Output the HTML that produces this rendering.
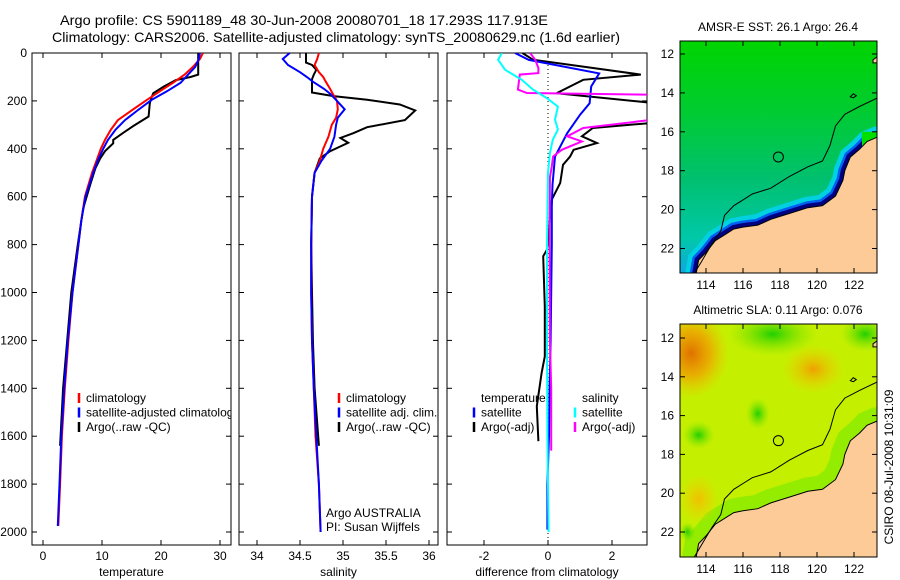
<!DOCTYPE html>
<html><head><meta charset="utf-8"><style>
html,body{margin:0;padding:0;background:#fff;}
svg{display:block;font-family:"Liberation Sans",sans-serif;}
text{font-size:12px;fill:#000;}
</style></head><body>
<svg id="fig" width="900" height="580" viewBox="0 0 900 580">
<defs>
<clipPath id="c1"><rect x="32" y="53" width="199" height="492"/></clipPath>
<clipPath id="c2"><rect x="239" y="53" width="199" height="492"/></clipPath>
<clipPath id="c3"><rect x="447" y="53" width="200" height="492"/></clipPath>
<clipPath id="cm1"><rect x="680" y="41" width="197" height="232"/></clipPath>
<clipPath id="cm2"><rect x="680" y="324" width="197" height="233"/></clipPath>
<linearGradient id="g1" x1="0" y1="0" x2="0" y2="1">
<stop offset="0" stop-color="#00d400"/><stop offset="0.3" stop-color="#00cc30"/>
<stop offset="0.6" stop-color="#00c070"/><stop offset="0.85" stop-color="#00c8a8"/><stop offset="1" stop-color="#10a8e0"/></linearGradient>
<radialGradient id="o1"><stop offset="0" stop-color="#e07000"/><stop offset="0.5" stop-color="#f0a000" stop-opacity="0.8"/><stop offset="1" stop-color="#f0c000" stop-opacity="0"/></radialGradient>
<radialGradient id="o2"><stop offset="0" stop-color="#f0a000"/><stop offset="1" stop-color="#f0d000" stop-opacity="0"/></radialGradient>
<radialGradient id="gr"><stop offset="0" stop-color="#20d000"/><stop offset="1" stop-color="#80e000" stop-opacity="0"/></radialGradient>
<radialGradient id="yo"><stop offset="0" stop-color="#f0c000"/><stop offset="1" stop-color="#f0d000" stop-opacity="0"/></radialGradient>
</defs>
<text x="304" y="25" text-anchor="middle" textLength="488" lengthAdjust="spacingAndGlyphs" style="font-size:14px">Argo profile: CS 5901189_48 30-Jun-2008 20080701_18 17.293S 117.913E</text>
<text x="336" y="42" text-anchor="middle" textLength="568" lengthAdjust="spacingAndGlyphs" style="font-size:14px">Climatology: CARS2006. Satellite-adjusted climatology: synTS_20080629.nc (1.6d earlier)</text>
<g id="panels"></g>
<g id="maps"></g>
<text transform="translate(893,467) rotate(-90)" text-anchor="middle">CSIRO 08-Jul-2008 10:31:09</text>
</svg>
<script>
// ---- data ----
const tClimDepth=[0,25,58,90,125,160,196,240,280,320,363,400,447,500,600,700,800,1000,1200,1400,1600,1800,1975];
const tClim=[27.1,26.6,25.4,24.0,22.0,19.8,17.6,15.0,12.7,11.5,10.5,9.8,9.1,8.3,7.1,6.5,6.0,5.0,4.3,3.7,3.2,2.9,2.6];
const tSat=[26.6,26.4,25.8,24.6,23.3,21.0,18.4,16.0,13.9,12.3,11.0,10.2,9.3,8.5,7.2,6.5,6.0,5.0,4.2,3.6,3.1,2.8,2.5];
const tArgoDepth=[0,90,100,113,140,168,185,210,265,305,335,363,377,410,440,480,550,650,800,1000,1200,1400,1640];
const tArgo=[26.3,26.3,25.0,22.5,20.5,18.7,18.4,18.1,17.9,15.3,13.5,11.9,11.9,10.5,9.7,8.9,8.0,6.8,5.9,4.8,4.1,3.4,2.9];
const sDepth=[0,25,50,80,100,120,150,170,200,235,270,300,350,400,450,500,600,800,1000,1200,1400,1600,1800,2000];
const sClim=[34.72,34.70,34.67,34.72,34.77,34.80,34.85,34.88,34.93,34.94,34.92,34.87,34.83,34.77,34.73,34.67,34.64,34.63,34.63,34.64,34.66,34.68,34.72,34.74];
const sSat=[34.38,34.30,34.36,34.50,34.58,34.65,34.78,34.85,34.93,35.02,34.94,34.92,34.90,34.85,34.75,34.67,34.64,34.63,34.63,34.64,34.66,34.69,34.72,34.74];
const sArgoDepth=[0,40,50,70,90,110,165,180,195,215,240,280,310,335,355,375,410,440,500,600,800,1000,1200,1400,1640];
const sArgo=[34.57,34.57,34.64,34.69,34.66,34.64,34.64,34.89,35.28,35.66,35.84,35.72,35.28,35.12,34.97,35.06,34.85,34.73,34.67,34.64,34.63,34.64,34.65,34.67,34.72];
const dTsatDepth=[0,29,85,140,210,258,335,433,550,643,800,1000,1200,1400,1600,1800,1990];
const dTsat=[-1.03,-0.6,1.6,1.35,1.3,1.0,0.6,0.22,0.14,0.12,0.12,0.1,0.08,0.05,0.03,-0.02,-0.02];
const dTargoDepth=[0,28,90,112,168,210,290,313,348,376,404,432,467,543,612,821,849,1058,1267,1336,1475,1621];
const dTargo=[-0.8,-0.47,2.9,1.1,0.27,3.4,3.4,1.4,1.06,1.53,0.8,0.69,0.47,0.38,0.12,-0.03,-0.15,-0.1,-0.1,-0.2,-0.35,-0.3];
const dSsatDepth=[0,28,70,112,153,188,224,278,320,362,418,501,800,1200,1600,2000];
const dSsat=[-1.44,-1.56,-1.34,-0.82,-0.47,-0.04,0.31,0.22,0.31,0.15,0.06,0.0,-0.03,-0.03,-0.02,0.02];
const dSargoDepth=[0,28,63,84,90,153,167,174,278,313,348,369,404,432,473,520,800,1200,1400,1600,1660];
const dSargo=[-0.56,-0.4,-0.3,-0.3,-0.88,-0.94,-0.66,3.3,3.3,1.1,0.6,1.06,0.43,0.16,0.12,0.06,0.05,0.06,0.1,0.1,0.1];
const depthTicks=[0,200,400,600,800,1000,1200,1400,1600,1800,2000];
const tTicks=[0,10,20,30];
const sTicks=[34,34.5,35,35.5,36];
const dTicks=[-2,0,2];
const latTicks=[12,14,16,18,20,22];
const lonTicks=[114,116,118,120,122];
const coastLon=[113.45,113.6,114,114.5,115,115.5,116,116.8,117.5,118.5,119.5,120.3,121,121.4,121.5,121.8,122.3,122.7,123.2,123.4];
const coastLat=[23.4,22.6,22.2,21.6,21.3,21.0,20.9,20.8,20.5,20.2,19.9,19.8,19.3,18.5,18.0,17.3,16.9,16.5,16.3,16.3];
const shelfLon=[113.3,113.8,114.3,114.8,115.0,115.5,116,116.5,117.5,118.5,119.5,120.3,120.7,121.0,121.5,122.3,123.4];
const shelfLat=[23.4,22.6,21.8,21.1,20.3,19.8,19.5,19.2,18.9,18.3,17.8,17.5,16.7,15.7,15.1,14.7,14.2];
const argoLon=117.913, argoLat=17.293;

const NS='http://www.w3.org/2000/svg';
function mk(tag,attrs,parent){const e=document.createElementNS(NS,tag);for(const k in attrs)e.setAttribute(k,attrs[k]);parent.appendChild(e);return e;}
const yD=d=>53+d*0.2395;
const xT=v=>43+v*5.9;
const xS=v=>257+(v-34)*86;
const xDf=v=>548+v*32;
const P=document.getElementById('panels');

function panel(name,x0,w,xf,ticks,label,clip,labelY){
  const g=mk('g',{},P);
  
  
  const r=mk('rect',{x:x0,y:53,width:w,height:492,fill:'none',stroke:'#000','stroke-width':1},g);
  
  
  depthTicks.forEach(d=>{
    mk('line',{x1:x0,x2:x0+5,y1:yD(d),y2:yD(d),stroke:'#000'},g);
    mk('line',{x1:x0+w-5,x2:x0+w,y1:yD(d),y2:yD(d),stroke:'#000'},g);
    if(labelY){const t=mk('text',{x:x0-5,y:yD(d)+4,'text-anchor':'end'},g);t.textContent=d;
      
      }
  });
  ticks.forEach(v=>{
    const x=xf(v);
    mk('line',{x1:x,x2:x,y1:545,y2:540,stroke:'#000'},g);
    mk('line',{x1:x,x2:x,y1:53,y2:58,stroke:'#000'},g);
    const t=mk('text',{x:x,y:560,'text-anchor':'middle'},g);t.textContent=v;
    
    
  });
  const l=mk('text',{x:x0+w/2,y:576,'text-anchor':'middle'},g);l.textContent=label;
  
  
  const lines=mk('g',{'clip-path':'url(#'+clip+')'},g);
  return lines;
}
function series(g,xf,depths,vals,color,w,name){
  const pts=depths.map((d,i)=>xf(vals[i]).toFixed(1)+','+yD(d).toFixed(1)).join(' ');
  const p=mk('polyline',{points:pts,fill:'none',stroke:color,'stroke-width':w,'stroke-linejoin':'miter'},g);
  
  
}
const g1=panel('temperature-panel',32,199,xT,tTicks,'temperature','c1',true);
series(g1,xT,tArgoDepth,tArgo,'#000',2,'temp-argo-line');
series(g1,xT,tClimDepth,tClim,'#f00',2,'temp-climatology-line');
series(g1,xT,tClimDepth,tSat,'#00f',2,'temp-satellite-line');
const g2=panel('salinity-panel',239,199,xS,sTicks,'salinity','c2',false);
series(g2,xS,sArgoDepth,sArgo,'#000',2,'sal-argo-line');
series(g2,xS,sDepth,sClim,'#f00',2,'sal-climatology-line');
series(g2,xS,sDepth,sSat,'#00f',2,'sal-satellite-line');
const g3=panel('difference-panel',447,200,xDf,dTicks,'difference from climatology','c3',false);
mk('line',{x1:xDf(0),x2:xDf(0),y1:53,y2:545,stroke:'#000','stroke-dasharray':'1,3'},g3);
series(g3,xDf,dTargoDepth,dTargo,'#000',2,'diff-temp-argo-line');
series(g3,xDf,dTsatDepth,dTsat,'#00f',2,'diff-temp-satellite-line');
series(g3,xDf,dSargoDepth,dSargo,'#f0f',2,'diff-sal-argo-line');
series(g3,xDf,dSsatDepth,dSsat,'#0ff',2,'diff-sal-satellite-line');

function legend(x,y,items){
  items.forEach((it,i)=>{
    const yy=y+i*14.5;
    if(it[1]){mk('line',{x1:x,x2:x,y1:yy-9,y2:yy+1,stroke:it[1],'stroke-width':2.5},P);}
    const t=mk('text',{x:x+7,y:yy},P);t.textContent=it[0];
    
    
  });
}
legend(79,402,[['climatology','#f00'],['satellite-adjusted climatology','#00f'],['Argo(..raw -QC)','#000']]);
mk('rect',{x:231.5,y:400,width:7,height:20,fill:'#fff'},P);
mk('line',{x1:231,x2:231,y1:53,y2:545,stroke:'#000'},P);
mk('line',{x1:239,x2:239,y1:53,y2:545,stroke:'#000'},P);
legend(339,402,[['climatology','#f00'],['satellite adj. clim.','#00f'],['Argo(..raw -QC)','#000']]);
legend(474,402,[['temperature',null],['satellite','#00f'],['Argo(-adj)','#000']]);
legend(575,402,[['salinity',null],['satellite','#0ff'],['Argo(-adj)','#f0f']]);
[['Argo AUSTRALIA',517],['PI: Susan Wijffels',531]].forEach(a=>{
  const t=mk('text',{x:326,y:a[1]},P);t.textContent=a[0];
  
  
});

// ---- maps ----
const M=document.getElementById('maps');
function map(name,y0,h,lat12,pxlat,title,clip,fillFn){
  const g=mk('g',{},M);
  
  
  const X=lon=>706+(lon-114)*18.5;
  const Y=lat=>lat12+(lat-12)*pxlat;
  const inner=mk('g',{'clip-path':'url(#'+clip+')'},g);
  fillFn(inner,X,Y);
  const coast=coastLon.map((l,i)=>X(l).toFixed(1)+','+Y(coastLat[i]).toFixed(1)).join(' ');
  const land=mk('polygon',{points:coast+' 880,'+(y0+h+5)+' '+X(113.45)+','+(y0+h+5),fill:'#fccb98',stroke:'#000','stroke-width':1},inner);
  
  
  const shelf=shelfLon.map((l,i)=>X(l).toFixed(1)+','+Y(shelfLat[i]).toFixed(1)).join(' ');
  const sl=mk('polyline',{points:shelf,fill:'none',stroke:'#000','stroke-width':1},inner);
  
  
  mk('path',{d:`M${X(121.8)},${Y(14.2)} l3,-3 l3,2 l-3,2 z`,fill:'none',stroke:'#000'},inner);
  mk('path',{d:`M873,${Y(12.3)} l4,-3 l2,6 l-6,0 z`,fill:'#fccb98',stroke:'#000'},inner);
  const c=mk('circle',{cx:X(argoLon),cy:Y(argoLat),r:5,fill:'none',stroke:'#000','stroke-width':1},g);
  
  
  mk('rect',{x:680,y:y0,width:197,height:h,fill:'none',stroke:'#000'},g);
  latTicks.forEach(l=>{const y=Y(l);
    mk('line',{x1:680,x2:685,y1:y,y2:y,stroke:'#000'},g);
    mk('line',{x1:872,x2:877,y1:y,y2:y,stroke:'#000'},g);
    const t=mk('text',{x:674,y:y+4,'text-anchor':'end'},g);t.textContent=l;
    
    });
  lonTicks.forEach(l=>{const x=X(l);
    mk('line',{x1:x,x2:x,y1:y0,y2:y0+5,stroke:'#000'},g);
    mk('line',{x1:x,x2:x,y1:y0+h,y2:y0+h-5,stroke:'#000'},g);
    const t=mk('text',{x:x,y:y0+h+16,'text-anchor':'middle'},g);t.textContent=l;
    
    });
  const tt=mk('text',{x:778,y:y0-10,'text-anchor':'middle'},g);tt.textContent=title;
  
  
}
map('sst-map',41,232,54,19.45,'AMSR-E SST: 26.1 Argo: 26.4','cm1',(g,X,Y)=>{
  mk('rect',{x:680,y:41,width:197,height:232,fill:'url(#g1)'},g);
  const coast=coastLon.map((l,i)=>X(l).toFixed(1)+','+Y(coastLat[i]).toFixed(1)).join(' ');
  mk('polyline',{points:coast,fill:'none',stroke:'#00d0e0','stroke-width':22},g);
  mk('polyline',{points:coast,fill:'none',stroke:'#0060f0','stroke-width':13},g);
  mk('polyline',{points:coast,fill:'none',stroke:'#000080','stroke-width':8},g);
  mk('rect',{x:862,y:Y(16),width:15,height:20,fill:'#00e000'},g);
});
map('sla-map',324,233,338,19.4,'Altimetric SLA: 0.11 Argo: 0.076','cm2',(g,X,Y)=>{
  mk('rect',{x:680,y:324,width:197,height:233,fill:'#c4f000'},g);
  const coast=coastLon.map((l,i)=>X(l).toFixed(1)+','+Y(coastLat[i]).toFixed(1)).join(' ');
  mk('polyline',{points:coast,fill:'none',stroke:'#94ec00','stroke-width':28},g);
  mk('ellipse',{cx:X(113.2),cy:Y(12.8),rx:38,ry:45,fill:'url(#o1)'},g);
  mk('ellipse',{cx:X(119.8),cy:Y(13.6),rx:32,ry:25,fill:'url(#o2)'},g);
  mk('ellipse',{cx:X(117.6),cy:Y(11.8),rx:45,ry:22,fill:'url(#gr)'},g);
  mk('ellipse',{cx:X(122.6),cy:Y(11.8),rx:25,ry:18,fill:'url(#gr)'},g);
  mk('ellipse',{cx:X(113.6),cy:Y(17),rx:16,ry:14,fill:'url(#gr)'},g);
  mk('ellipse',{cx:X(116.8),cy:Y(15.9),rx:12,ry:16,fill:'url(#gr)'},g);
  mk('ellipse',{cx:X(113.6),cy:Y(20.3),rx:20,ry:25,fill:'url(#yo)'},g);
  mk('ellipse',{cx:X(113),cy:Y(22),rx:8,ry:10,fill:'url(#gr)'},g);
});
</script>
</body></html>
